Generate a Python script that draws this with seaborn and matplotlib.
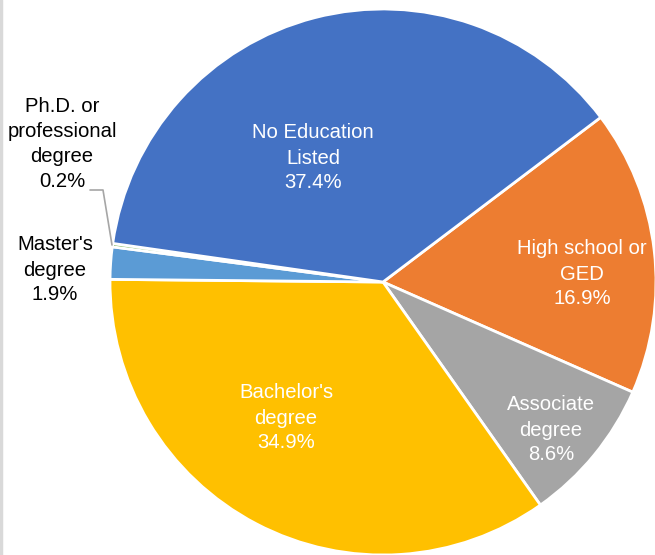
import matplotlib
matplotlib.use("Agg")
import matplotlib.pyplot as plt
from matplotlib.lines import Line2D
import seaborn as sns

# Education levels, in clockwise drawing order
categories = ["High school or\nGED", "Associate\ndegree", "Bachelor's\ndegree",
              "Master's\ndegree", "Ph.D. or\nprofessional\ndegree", "No Education\nListed"]
shares = [16.9, 8.6, 34.9, 1.9, 0.2, 37.4]
colors = ["#ED7D31", "#A5A5A5", "#FFC000", "#5B9BD5", "#70AD47", "#4472C4"]

# label anchor points (pixel space, origin top-left) and text colours
label_xy = [(582, 274), (551, 430), (286, 418), (55, 270), (62, 144), (313, 158)]
label_colors = ["white", "white", "white", "black", "black", "white"]

sns.set_theme(style="white")
plt.rcParams["font.family"] = ["Liberation Sans", "DejaVu Sans"]
plt.rcParams["font.stretch"] = "condensed"

W, H = 655, 555
fig = plt.figure(figsize=(W / 100, H / 100), dpi=100)
ax = fig.add_axes([0, 0, 1, 1])
ax.set_xlim(0, W)
ax.set_ylim(0, H)
ax.set_aspect("equal")
ax.axis("off")

cx, cy, r = 383, H - 282, 273
ax.pie(shares, colors=colors, startangle=37.1, counterclock=False,
       center=(cx, cy), radius=r, normalize=True,
       wedgeprops=dict(edgecolor="white", linewidth=2.0))
ax.set_xlim(0, W)
ax.set_ylim(0, H)

for name, val, (x, y), c in zip(categories, shares, label_xy, label_colors):
    ax.text(x, H - y, f"{name}\n{val:.1f}%", ha="center", va="center",
            color=c, fontsize=14.6, linespacing=1.4)

# leader line for the smallest slice
ax.add_line(Line2D([90, 103, 112], [H - 190, H - 190, H - 245],
                   color="#A6A6A6", linewidth=1.2))

# thin frame edge at the left
fig.add_artist(Line2D([0.002, 0.002], [0, 1], transform=fig.transFigure,
                      color="#D9D9D9", linewidth=2.5))

fig.savefig("out.png", dpi=100)
